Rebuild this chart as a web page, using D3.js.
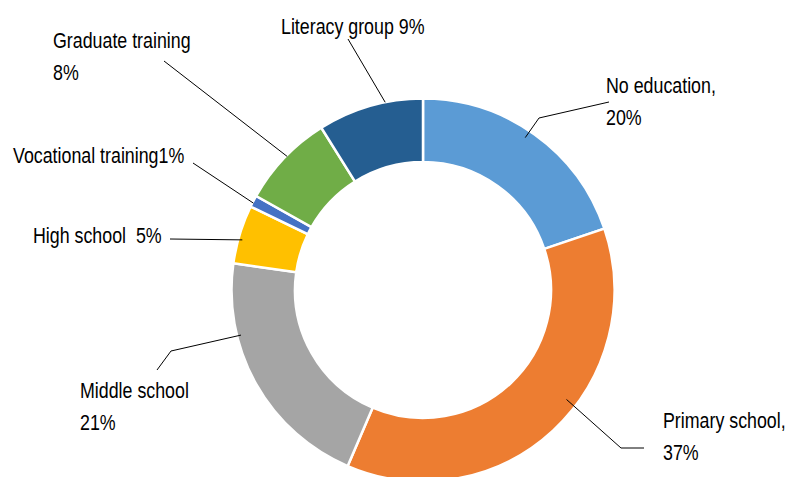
<!DOCTYPE html>
<html>
<head>
<meta charset="utf-8">
<script src="https://cdn.jsdelivr.net/npm/d3@7/dist/d3.min.js"></script>
<style>
  html, body { margin: 0; padding: 0; background: #fff; }
  svg text { font-family: "Liberation Sans", Arial, sans-serif; font-size: 22px; fill: #000; }
</style>
</head>
<body>
<svg id="chart" width="787" height="477"></svg>
<script>
// Education level shares (percent), clockwise from 12 o'clock
const categories = ["No education", "Primary school", "Middle school", "High school", "Vocational training", "Graduate training", "Literacy group"];
const values = [20, 37, 21, 5, 1, 8, 9];
const colors = ["#5B9BD5", "#ED7D31", "#A5A5A5", "#FFC000", "#4472C4", "#70AD47", "#255E91"];

// Separator between category name and value in each label ("\n" = line break)
const labelSeparators = [",\n", ",\n", "\n", "  ", "", "\n", " "];

// Label placement: text anchor (x, first baseline), leader start, optional elbow,
// and where the leader meets the ring (fraction across the slice, inset from outer edge)
const labelLayout = [
  { x: 606, y: 93,  start: [609, 102], elbow: [539, 118], frac: 0.475, inset: 8 },
  { x: 663, y: 428, start: [644, 448], elbow: [621, 448], frac: 0.425, inset: 11 },
  { x: 80,  y: 398, start: [157, 370], elbow: [171, 351], frac: 0.707, inset: 4 },
  { x: 33,  y: 243, start: [170, 239], elbow: null,       frac: 0.42,  inset: 4 },
  { x: 13,  y: 163, start: [193, 163], elbow: null,       frac: 0.36,  inset: 1 },
  { x: 53,  y: 48,  start: [164, 61],  elbow: null,       frac: 0.53,  inset: 1 },
  { x: 281, y: 34,  start: [348, 39],  elbow: null,       frac: 0.645, inset: 0 }
];

const cx = 423, cy = 290, outerR = 191.5, innerR = 128, lineH = 32;
const condense = 0.81; // horizontal squeeze for a condensed typeface look

const svg = d3.select("#chart");
const g = svg.append("g").attr("transform", `translate(${cx},${cy})`);

const data = categories.map((c, i) => ({ name: c, value: values[i], color: colors[i], i }));

const pie = d3.pie().value(d => d.value).sort(null);
const arcs = pie(data);
const arc = d3.arc().innerRadius(innerR).outerRadius(outerR);

g.selectAll("path.slice")
  .data(arcs)
  .join("path")
  .attr("class", "slice")
  .attr("d", arc)
  .attr("fill", d => d.data.color)
  .attr("stroke", "#fff")
  .attr("stroke-width", 2.5)
  .attr("stroke-linejoin", "miter");

// Leader lines
const leaders = svg.append("g");
arcs.forEach((a, i) => {
  const L = labelLayout[i];
  const ang = a.startAngle + (a.endAngle - a.startAngle) * L.frac;
  const r = outerR - L.inset;
  const end = [cx + r * Math.sin(ang), cy - r * Math.cos(ang)];
  const pts = [L.start];
  if (L.elbow) pts.push(L.elbow);
  pts.push(end);
  leaders.append("path")
    .attr("d", d3.line()(pts))
    .attr("fill", "none")
    .attr("stroke", "#000")
    .attr("stroke-width", 1);
});

// Labels
const labels = svg.append("g");
data.forEach((d, i) => {
  const L = labelLayout[i];
  const text = d.name + labelSeparators[i] + d.value + "%";
  const lines = text.split("\n");
  const t = labels.append("text")
    .attr("transform", `translate(${L.x},${L.y}) scale(${condense},1)`)
    .attr("xml:space", "preserve");
  lines.forEach((ln, k) => {
    t.append("tspan").attr("x", 0).attr("dy", k === 0 ? 0 : lineH).text(ln);
  });
});
</script>
</body>
</html>
